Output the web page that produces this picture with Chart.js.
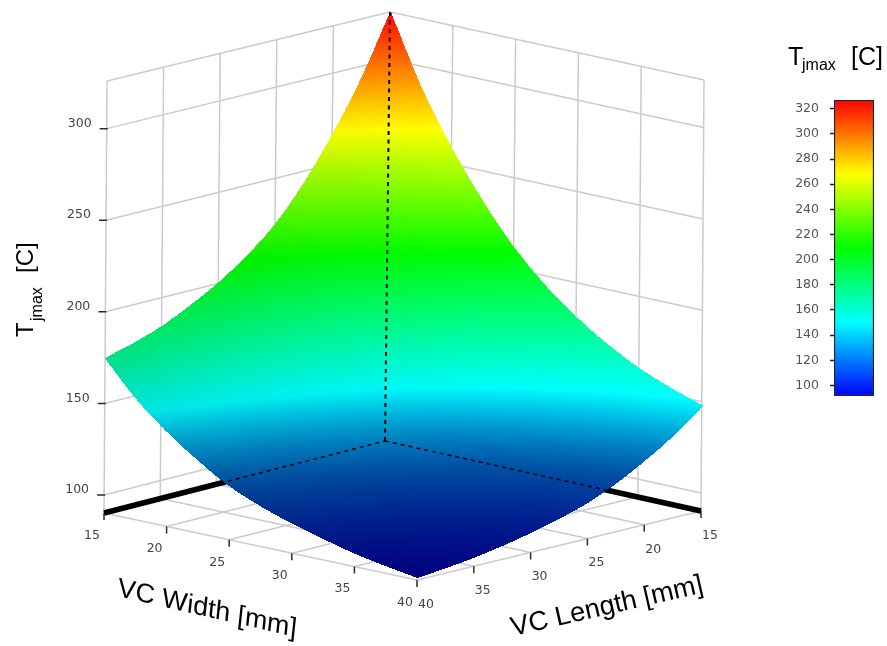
<!DOCTYPE html>
<html>
<head>
<meta charset="utf-8">
<style>
html,body{margin:0;padding:0;background:#fff;overflow:hidden}
#wrap{position:relative;width:887px;height:646px}
canvas{position:absolute;display:block}
</style>
<script src="https://cdn.jsdelivr.net/npm/chart.js@4/dist/chart.umd.min.js"></script>
</head>
<body>
<div id="wrap">
<canvas id="main" width="887" height="646" style="left:0;top:0"></canvas>
<canvas id="bar" width="107" height="316" style="left:780px;top:90px"></canvas>
</div>
<script>
// ---- data ----
const vcWidth  = [15,17.5,20,22.5,25,27.5,30,32.5,35,37.5,40];
const vcLength = [15,17.5,20,22.5,25,27.5,30,32.5,35,37.5,40];
// Tjmax [C]: one row per VC width, one column per VC length
const tjmaxW15   = [326,293.5,266.6,243.6,225,211.4,200.6,191.9,184.5,179.1,174.9];
const tjmaxW175  = [288.6,260.4,237,217.1,200.9,189.1,179.8,172.2,165.8,161.1,156.5];
const tjmaxW20   = [258.6,233.8,213.3,195.9,181.6,171.3,163.1,156.4,150.8,146.7,142];
const tjmaxW225  = [233.2,211.3,193.3,177.9,165.3,156.2,148.9,143,138.1,134.5,130];
const tjmaxW25   = [211.7,192.3,176.3,162.6,151.5,143.4,137,131.7,127.4,124.1,119.8];
const tjmaxW275  = [194.7,177.3,162.8,150.6,140.5,133.3,127.5,122.8,118.9,116,112.5];
const tjmaxW30   = [181.1,165.2,152.1,140.9,131.8,125.2,119.9,115.6,112.1,109.4,106.8];
const tjmaxW325  = [169.8,155.2,143.2,132.9,124.5,118.4,113.6,109.7,106.4,104,102.1];
const tjmaxW35   = [160.7,147.2,136,126.4,118.7,113,108.6,104.9,101.9,99.6,97.8];
const tjmaxW375  = [153.7,141,130.5,121.5,114.2,108.9,104.7,101.2,98.4,96.2,94.6];
const tjmaxW40   = [148,135.9,126,117.4,110.5,105.5,101.5,98.2,95.5,93.5,91.9];
const tjmaxRows  = [tjmaxW15,tjmaxW175,tjmaxW20,tjmaxW225,tjmaxW25,tjmaxW275,tjmaxW30,tjmaxW325,tjmaxW35,tjmaxW375,tjmaxW40];

const widthTicks  = [15,20,25,30,35,40];
const lengthTicks = [15,20,25,30,35,40];
const tjmaxTicks  = [100,150,200,250,300];
const barTicks    = [100,120,140,160,180,200,220,240,260,280,300,320];

// ---- view (camera) of the 3D box ----
const boxFloor = {t0:90.2, t1:326, w0:15, w1:40, l0:15, l1:40};
const camFloor = {bb:[385,441], fb:[701,511], bf:[104,513], ff:[417,580]};
const camRise  = {bb:[5,-429],  fb:[3,-431],  bf:[3,-432],  ff:[4,-434]};

function bil(c,u,v,k){return (1-u)*(1-v)*c.bb[k]+u*(1-v)*c.fb[k]+(1-u)*v*c.bf[k]+u*v*c.ff[k];}
function project(w,l,t){
  const u=(w-boxFloor.w0)/(boxFloor.w1-boxFloor.w0), v=(l-boxFloor.l0)/(boxFloor.l1-boxFloor.l0);
  const h=(t-boxFloor.t0)/(boxFloor.t1-boxFloor.t0);
  return {x:bil(camFloor,u,v,0)+h*bil(camRise,u,v,0), y:bil(camFloor,u,v,1)+h*bil(camRise,u,v,1)};
}
const GAP={x:NaN,y:NaN};
function segs(list){const o=[];list.forEach(s=>{s.forEach(p=>o.push(project(p[0],p[1],p[2])));o.push(GAP);});return o;}

const {w0,w1,l0,l1,t0,t1}=boxFloor;
// wall and floor grid
const gridSegs=[];
lengthTicks.forEach(l=>{gridSegs.push([[w0,l,t0],[w0,l,t1]]);gridSegs.push([[w0,l,t0],[w1,l,t0]]);});
widthTicks.forEach(w=>{gridSegs.push([[w,l0,t0],[w,l0,t1]]);gridSegs.push([[w,l0,t0],[w,l1,t0]]);});
tjmaxTicks.concat([t1]).forEach(t=>{gridSegs.push([[w0,l1,t],[w0,l0,t]]);gridSegs.push([[w0,l0,t],[w1,l0,t]]);});
// ticks
function tickMarks(){
  const o=[];
  widthTicks.forEach(w=>{const p=project(w,l1,t0);o.push(p,{x:p.x,y:p.y+7},GAP);});
  lengthTicks.forEach(l=>{const p=project(w1,l,t0);o.push(p,{x:p.x,y:p.y+7},GAP);});
  tjmaxTicks.forEach(t=>{const p=project(w0,l1,t);o.push({x:p.x-7,y:p.y},{x:p.x+1,y:p.y},GAP);});
  return o;
}
const surfacePts=[];
vcWidth.forEach((w,i)=>vcLength.forEach((l,j)=>surfacePts.push(project(w,l,tjmaxRows[i][j]))));

const SURF='Tjmax surface';
const lineBase={showLine:true,pointRadius:0,spanGaps:false,borderCapStyle:'butt'};
const datasets=[
  {...lineBase,label:'Hidden vertical',data:segs([[[w0,l0,t0],[w0,l0,t1]]]),borderColor:'#000',borderWidth:2,borderDash:[4,4.5]},
  {...lineBase,label:'Hidden floor',data:segs([[[w0,l1,t0],[w0,l0,t0]],[[w0,l0,t0],[w1,l0,t0]]]),borderColor:'#000',borderWidth:1.5,borderDash:[4,4]},
  {label:SURF,data:surfacePts,showLine:false,pointRadius:0},
  {...lineBase,label:'Floor back edges',data:segs([[[w0,l1,t0],[w0,l0,t0]],[[w0,l0,t0],[w1,l0,t0]]]),borderColor:'#000',borderWidth:5.5},
  {...lineBase,label:'Ticks',data:tickMarks(),borderColor:'#2b2b2b',borderWidth:1.5},
  {...lineBase,label:'Grid',data:segs(gridSegs),borderColor:'#cbcbcb',borderWidth:1.5}
];

// colour map
const colorStops=[[0,0,255],[0,255,255],[0,255,0],[255,255,0],[255,0,0]];
const barMin=91.6, barMax=327;
const shadeT=[92,102,120,133,150];
const shadeF=[0.5,0.55,0.65,0.8,1];
function mapColor(t){
  const s=Math.max(0,Math.min(0.9999,(t-barMin)/(barMax-barMin)))*4;
  const i=Math.floor(s),f=s-i;
  return colorStops[i].map((c,k)=>c+(colorStops[i+1][k]-c)*f);
}
function shade(t){
  if(t<=shadeT[0])return shadeF[0];
  for(let i=1;i<shadeT.length;i++){
    if(t<=shadeT[i])return shadeF[i-1]+(shadeF[i]-shadeF[i-1])*(t-shadeT[i-1])/(shadeT[i]-shadeT[i-1]);
  }
  return 1;
}
// smooth blending weights between the table's rows and columns
function blendAt(q,n){
  const s=Math.min(q*n,n-1e-6),i=Math.floor(s),f=s-i;
  const f2=f*f,f3=f2*f;
  return {i,w:[-0.5*f3+f2-0.5*f,1.5*f3-2.5*f2+1,-1.5*f3+2*f2+0.5*f,0.5*f3-0.5*f2]};
}
const surfacePlugin={
  id:'surface',
  afterDatasetDraw(chart,args){
    if(chart.data.datasets[args.index].label!==SURF)return;
    const sx=chart.scales.x,sy=chart.scales.y,SAMPLES=1500;
    const W=chart.width,H=chart.height,n=vcWidth.length-1;
    const off=document.createElement('canvas');off.width=W;off.height=H;
    const oc=off.getContext('2d'),img=oc.createImageData(W,H),d=img.data;
    // colour table
    const lut=[];
    for(let k=0;k<=1400;k++){const t=90+k*0.2,c=mapColor(t),f=shade(t);lut.push([c[0]*f,c[1]*f,c[2]*f]);}
    // table lookups that continue the end slope beyond the first and last entry
    const rowAt=(i,c)=>i<0?2*tjmaxRows[0][c]-tjmaxRows[1][c]:i>n?2*tjmaxRows[n][c]-tjmaxRows[n-1][c]:tjmaxRows[i][c];
    const colAt=(r,j)=>j<0?2*r[0]-r[1]:j>n?2*r[n]-r[n-1]:r[j];
    const row=new Float64Array(n+1);
    const blends=[];
    for(let b=0;b<=SAMPLES;b++)blends.push(blendAt(b/SAMPLES,n));
    for(let a=0;a<=SAMPLES;a++){
      const qa=a/SAMPLES,ba=blends[a];
      for(let c=0;c<=n;c++){
        row[c]=ba.w[0]*rowAt(ba.i-1,c)+ba.w[1]*rowAt(ba.i,c)+ba.w[2]*rowAt(ba.i+1,c)+ba.w[3]*rowAt(ba.i+2,c);
      }
      const w=w0+(w1-w0)*qa;
      for(let b=0;b<=SAMPLES;b++){
        const qb=b/SAMPLES,bb=blends[b];
        const t=bb.w[0]*colAt(row,bb.i-1)+bb.w[1]*colAt(row,bb.i)+bb.w[2]*colAt(row,bb.i+1)+bb.w[3]*colAt(row,bb.i+2);
        const p=project(w,l0+(l1-l0)*qb,t);
        const xp=Math.round(sx.getPixelForValue(p.x)),yp=Math.round(sy.getPixelForValue(p.y));
        if(xp<0||yp<0||xp>=W||yp>=H)continue;
        const side=1-0.12*qb*(1-qa);
        const col=lut[Math.max(0,Math.min(1400,Math.round((t-90)/0.2)))];
        const o=(yp*W+xp)*4;
        d[o]=col[0]*side;d[o+1]=col[1]*side;d[o+2]=col[2]*side;d[o+3]=255;
      }
    }
    oc.putImageData(img,0,0);
    chart.ctx.drawImage(off,0,0,W,H);
  },
  afterDraw(chart){
    const c=chart.ctx,sx=chart.scales.x,sy=chart.scales.y;
    const X=v=>sx.getPixelForValue(v),Y=v=>sy.getPixelForValue(v);
    c.save();
    c.textAlign='center';c.textBaseline='middle';c.fillStyle='#444';c.font='12.5px "DejaVu Sans"';
    widthTicks.forEach(w=>{const p=project(w,l1,t0);c.fillText(String(w),X(p.x)-12,Y(p.y)+22.5);});
    lengthTicks.forEach(l=>{const p=project(w1,l,t0);c.fillText(String(l),X(p.x)+9,Y(p.y)+24.5);});
    tjmaxTicks.forEach(t=>{const p=project(w0,l1,t);c.fillText(String(t),X(p.x)-27,Y(p.y)-5);});
    c.fillStyle='#000';c.textAlign='left';c.textBaseline='alphabetic';
    const font='"Liberation Sans"';
    // colour-bar title
    c.font='25px '+font;c.fillText('T',788,65);
    c.font='16px '+font;c.fillText('jmax',802,70);
    c.font='25px '+font;c.fillText('[C]',851,65);
    // vertical axis title
    c.save();c.translate(33,337);c.rotate(-Math.PI/2);
    c.font='24px '+font;c.fillText('T',0,0);
    c.font='16px '+font;c.fillText('jmax',16,9);
    c.font='24px '+font;c.fillText('[C]',64,0);
    c.restore();
    // floor axis titles
    c.save();c.translate(117,596);c.transform(Math.cos(0.225),Math.sin(0.225),-Math.sin(0.225)+0.12,Math.cos(0.225),0,0);
    c.font='27.3px '+font;c.fillText('VC Width [mm]',0,0);c.restore();
    c.save();c.translate(513,636);c.rotate(-0.225);
    c.font='27.2px '+font;c.fillText('VC Length [mm]',0,0);c.restore();
    c.restore();
  }
};

new Chart(document.getElementById('main'),{
  type:'scatter',
  data:{datasets},
  plugins:[surfacePlugin],
  options:{
    responsive:false,animation:false,events:[],
    layout:{padding:0},
    plugins:{legend:{display:false},tooltip:{enabled:false},title:{display:false}},
    scales:{
      x:{type:'linear',min:0,max:887,display:false},
      y:{type:'linear',min:0,max:646,reverse:true,display:false}
    }
  }
});

// ---- colour bar ----
new Chart(document.getElementById('bar'),{
  type:'bar',
  data:{labels:[''],datasets:[{
    label:'Tjmax [C]',
    data:[[barMin,barMax]],
    barPercentage:1,categoryPercentage:1,
    borderColor:'#222',borderWidth:1.5,borderSkipped:false,
    backgroundColor(ctx){
      const a=ctx.chart.chartArea;
      if(!a)return '#00f';
      const g=ctx.chart.ctx.createLinearGradient(0,a.bottom,0,a.top);
      colorStops.forEach((s,i)=>g.addColorStop(i/(colorStops.length-1),'rgb('+s.join(',')+')'));
      return g;
    }
  }]},
  options:{
    responsive:false,animation:false,events:[],
    layout:{padding:{top:10,bottom:10,right:13,left:0}},
    plugins:{legend:{display:false},tooltip:{enabled:false}},
    scales:{
      x:{display:false,grid:{display:false}},
      y:{
        min:barMin,max:barMax,
        afterFit(s){s.width=54;s.paddingTop=0;s.paddingBottom=0;},
        afterBuildTicks(s){s.ticks=barTicks.map(v=>({value:v}));},
        grid:{drawOnChartArea:false,tickLength:4,color:'#222',tickWidth:1.5},
        border:{display:false},
        ticks:{color:'#555',padding:11,autoSkip:false,font:{family:'"DejaVu Sans"',size:12.5}}
      }
    }
  }
});
</script>
</body>
</html>
